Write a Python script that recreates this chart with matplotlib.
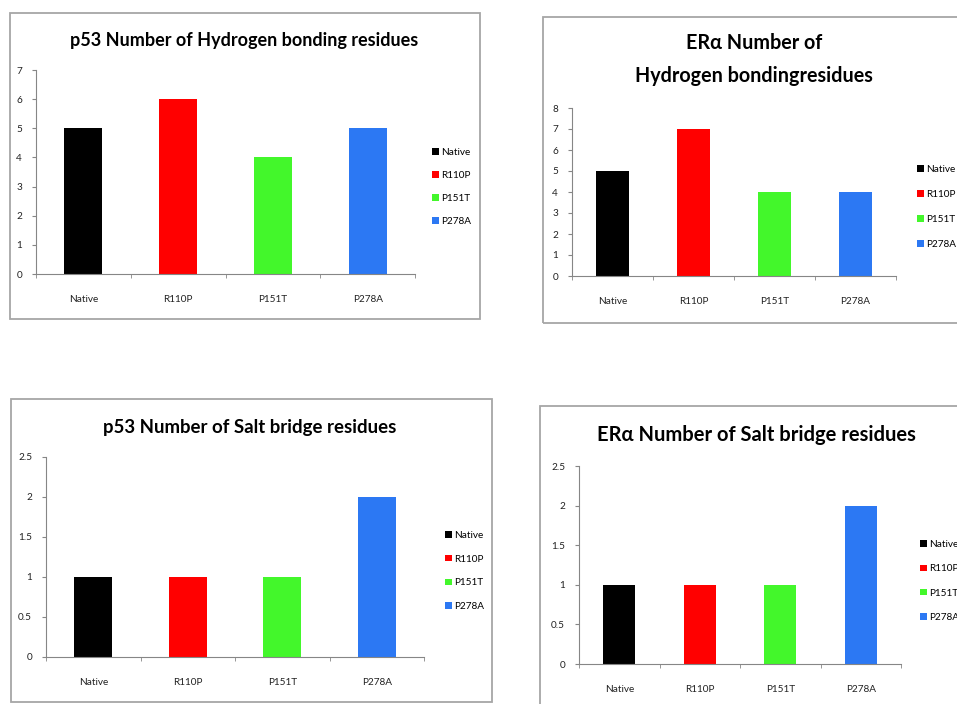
import numpy as np
import matplotlib
matplotlib.use('Agg')
import matplotlib.pyplot as plt
from matplotlib.patches import Rectangle
from matplotlib.ticker import FuncFormatter

plt.rcParams['font.family'] = ['Lato', 'DejaVu Sans']

W, H = 957, 704

categories = ['Native', 'R110P', 'P151T', 'P278A']
bar_colors = ['#000000', '#ff0000', '#43f72b', '#2c78f3']

p53_hbond = [5, 6, 4, 5]
era_hbond = [5, 7, 4, 4]
p53_salt = [1, 1, 1, 2]
era_salt = [1, 1, 1, 2]

fig = plt.figure(figsize=(W / 100, H / 100), dpi=100)


def fx(x):
    return x / W


def fy(y):
    return 1 - y / H


def panel(frame, axbox, title, title_xy, tsize, values, ymax, ystep, leg_xy, leg_gap):
    # grey border round the whole chart
    x0, y0, x1, y1 = frame
    fig.add_artist(Rectangle((fx(x0), fy(y1)), (x1 - x0) / W, (y1 - y0) / H,
                             transform=fig.transFigure, fill=False,
                             ec='#a6a6a6', lw=1.3))
    fig.text(fx(title_xy[0]), fy(title_xy[1]), title, ha='center', va='baseline',
             fontsize=tsize, fontweight='bold', linespacing=26 / tsize)

    a0, b0, a1, b1 = axbox
    ax = fig.add_axes([fx(a0), fy(b1), (a1 - a0) / W, (b1 - b0) / H])
    x = np.arange(len(categories))
    for i in range(len(categories)):
        ax.bar(x[i], values[i], width=0.4, color=bar_colors[i], label=categories[i])

    ax.set_xlim(-0.5, len(categories) - 0.5)
    ax.set_ylim(0, ymax)
    ax.set_yticks(np.arange(0, ymax + ystep / 2, ystep))
    ax.yaxis.set_major_formatter(FuncFormatter(lambda v, p: '%g' % v))
    ax.set_xticks(x)
    ax.set_xticklabels(categories)
    ax.set_xticks(np.arange(-0.5, len(categories)), minor=True)
    ax.tick_params(axis='x', which='major', length=0, pad=15, labelsize=7.2,
                   labelcolor='#222222')
    ax.tick_params(axis='x', which='minor', length=3, color='#868686')
    ax.tick_params(axis='y', length=3, color='#868686', pad=7, labelsize=7.2,
                   labelcolor='#222222')
    for s in ['top', 'right']:
        ax.spines[s].set_visible(False)
    for s in ['left', 'bottom']:
        ax.spines[s].set_color('#868686')

    fs = 7.2 * 100 / 72
    ax.legend(loc='center left', bbox_to_anchor=(fx(leg_xy[0]), fy(leg_xy[1])),
              bbox_transform=fig.transFigure, frameon=False, borderpad=0,
              borderaxespad=0, handlelength=0.65, handleheight=0.65,
              handletextpad=0.3, labelspacing=(leg_gap - fs) / fs, fontsize=7.2)
    return ax


panel((10, 13, 480, 319), (36, 70, 415, 274),
      'p53 Number of Hydrogen bonding residues', (244, 46), 13,
      p53_hbond, 7, 1, (432, 187), 24)
panel((543, 17, 990, 323), (572, 108, 896, 276),
      'ER\u03b1 Number of\nHydrogen bondingresidues', (754, 82), 14.2,
      era_hbond, 8, 1, (917, 207), 26)
panel((11, 399, 492, 702), (46, 457, 424, 657),
      'p53 Number of Salt bridge residues', (250, 433), 13.4,
      p53_salt, 2.5, 0.5, (445, 571), 24.7)
panel((540, 406, 990, 730), (579, 466, 901, 664),
      'ER\u03b1 Number of Salt bridge residues', (756, 441), 14.5,
      era_salt, 2.5, 0.5, (920, 581), 25.3)

fig.savefig('out.png', dpi=100)
